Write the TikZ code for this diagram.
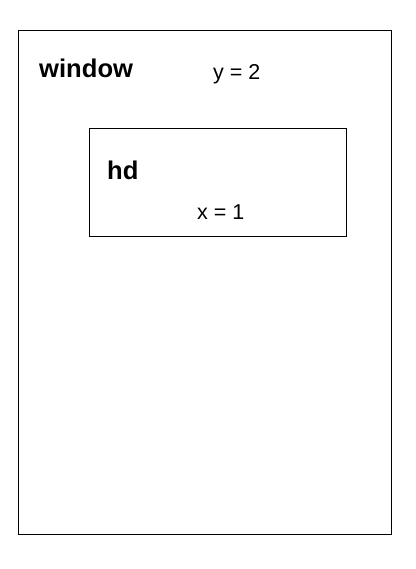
\documentclass[tikz,border=0pt]{standalone}
\usepackage{fontspec}
\setmainfont{Liberation Sans}
\begin{document}
\begin{tikzpicture}[x=1pt,y=-1pt,
  box/.style={draw=black,line width=1pt},
  title/.style={anchor=base west,inner sep=0pt,font=\fontsize{25.6}{30}\selectfont\bfseries},
  val/.style={anchor=base west,inner sep=0pt,font=\fontsize{21.5}{25}\selectfont}]
\useasboundingbox[fill=white] (0,0) rectangle (415,569);
\node[box,minimum width=373pt,minimum height=504pt,anchor=north west,inner sep=0pt] (window) at (18,30) {};
\node[box,minimum width=257pt,minimum height=108pt,anchor=north west,inner sep=0pt] (hd) at (89,128) {};
\node[title] (wt) at (39,78) {window};
\node[val] (y) at (213,80) {y = 2};
\node[title] (ht) at (107,179) {hd};
\node[val] (x) at (197,219) {x = 1};
\end{tikzpicture}
\end{document}
